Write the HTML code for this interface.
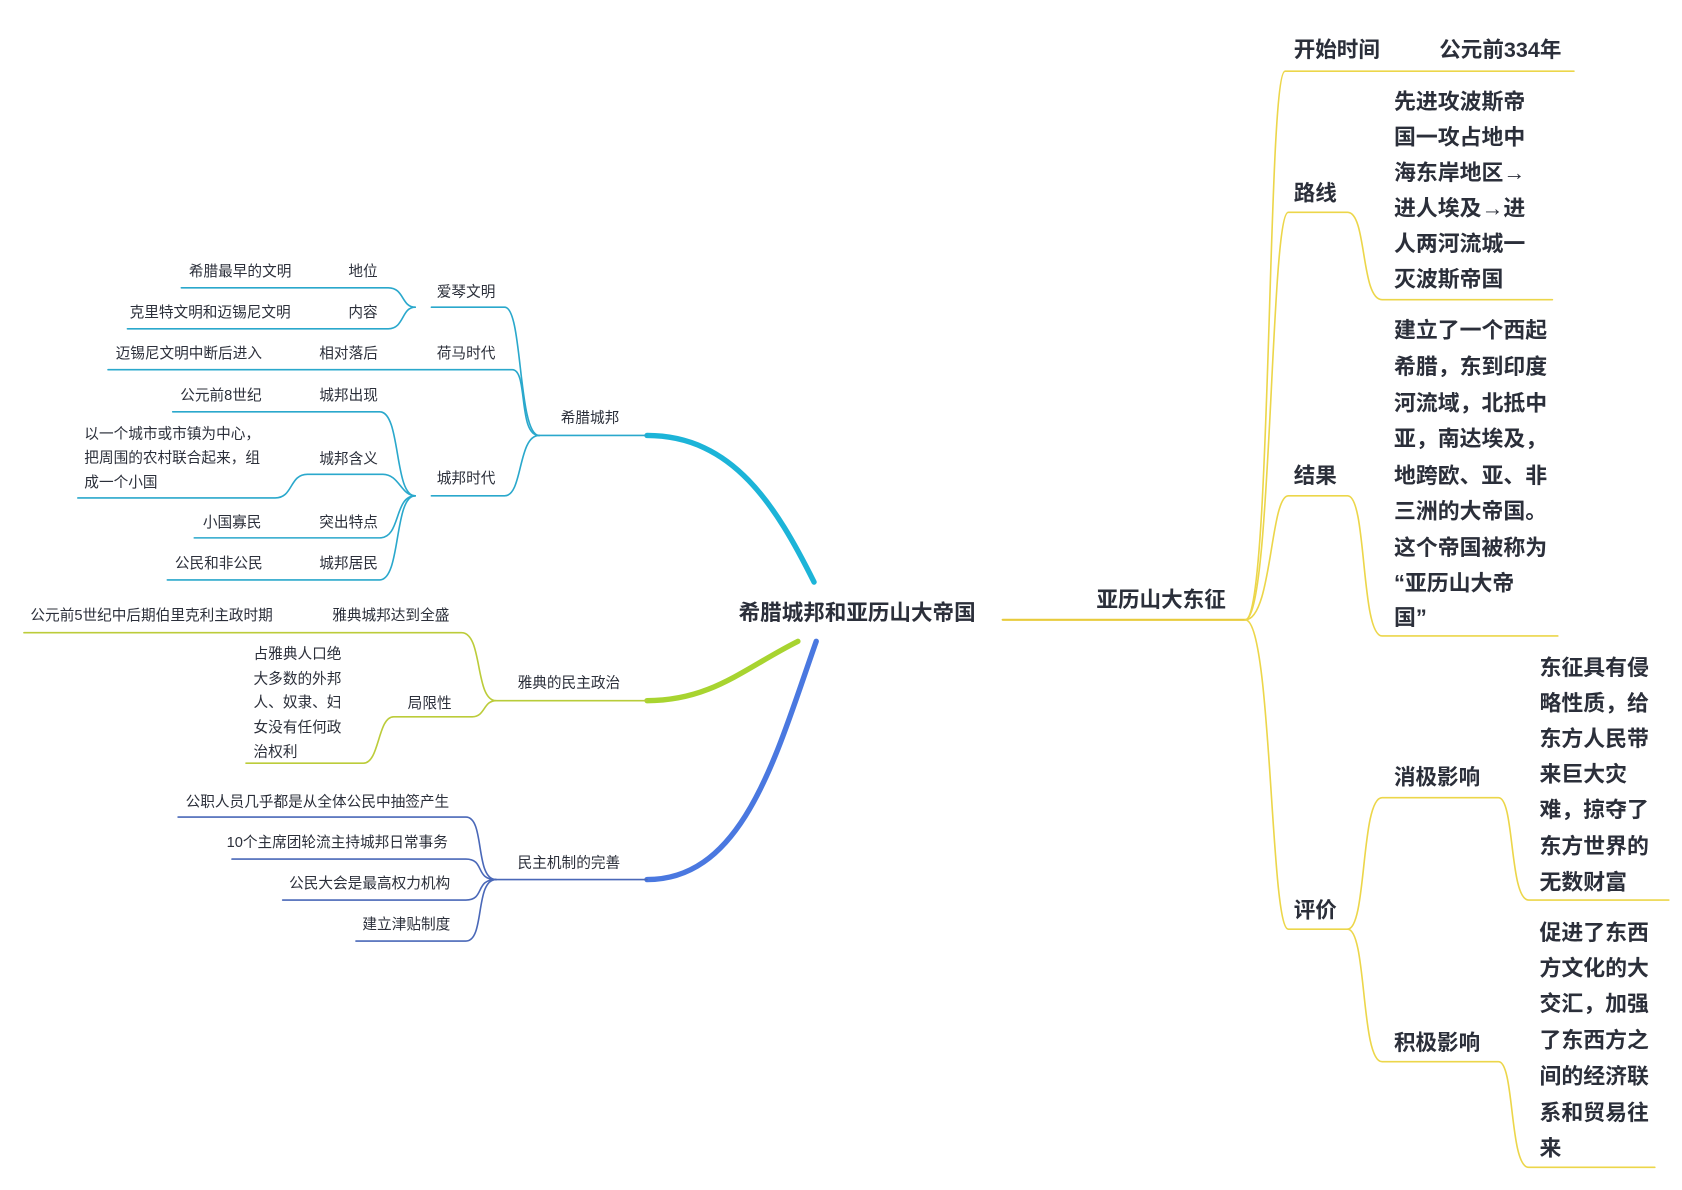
<!DOCTYPE html>
<html><head><meta charset="utf-8"><style>
html,body{margin:0;padding:0;background:#fff}
svg{display:block}
text{font-family:"Liberation Sans","Noto Sans CJK SC",sans-serif;fill:#2b2f3a}
.s{font-size:13.6px}
.m{font-size:20px;font-weight:bold}
.b{font-size:20.3px;font-weight:bold}
</style></head><body>
<svg width="1682" height="1190" viewBox="0 0 1560 1104" xmlns="http://www.w3.org/2000/svg">
<g fill="none" stroke-linecap="round">
<path d="M930 575 L1155 575" stroke="#e8cb3c" stroke-width="2"/>
<g stroke="#ecd64a" stroke-width="1.5">
<path d="M1155 575 C1180 575,1175 66,1192 66 L1460 66"/>
<path d="M1155 575 C1180 575,1178 197,1195 197 L1250 197 C1268 197,1262 278,1282 278 L1440 278"/>
<path d="M1155 575 C1180 575,1178 460,1195 460 L1250 460 C1268 460,1262 590,1282 590 L1445 590"/>
<path d="M1155 575 C1180 575,1178 862,1195 862 L1250 862"/>
<path d="M1250 862 C1268 862,1262 740,1282 740 L1390 740 C1405 740,1400 835,1418 835 L1548 835"/>
<path d="M1250 862 C1268 862,1262 985,1282 985 L1390 985 C1405 985,1400 1083,1418 1083 L1535 1083"/>
</g>
<path d="M755 540 C720 470,680 404,600 404" stroke="#1cb4d8" stroke-width="5"/>
<path d="M740 595 C690 620,660 650,600 650" stroke="#a8d430" stroke-width="5"/>
<path d="M757 595 C720 700,690 816,600 816" stroke="#4a78e0" stroke-width="5"/>
<path d="M600 404 L500 404" stroke="#2aa8cc" stroke-width="1.5"/>
<path d="M600 650 L460 650" stroke="#b8cc3a" stroke-width="1.5"/>
<path d="M600 816 L460 816" stroke="#4a68b8" stroke-width="1.5"/>
<g stroke="#2aa8cc" stroke-width="1.5">
<path d="M500 404 C480 404,485 285,468 285 L400 285"/>
<path d="M500 404 C480 404,490 343,475 343 L100 343"/>
<path d="M500 404 C480 404,485 460,468 460 L400 460"/>
<path d="M385 285 C372 285,375 267,360 267 L168 267"/>
<path d="M385 285 C372 285,375 305,360 305 L118 305"/>
<path d="M385 460 C365 460,372 382,352 382 L160 382"/>
<path d="M385 460 C372 460,370 440,355 440 L285 440 C268 440,272 462,255 462 L72 462"/>
<path d="M385 460 C365 460,372 499,352 499 L180 499"/>
<path d="M385 460 C365 460,372 538,352 538 L155 538"/>
</g>
<g stroke="#bccc3a" stroke-width="1.5">
<path d="M460 650 C440 650,448 587,428 587 L22 587"/>
<path d="M460 650 C448 650,450 665,438 665 L365 665 C350 665,352 708,337 708 L228 708"/>
</g>
<g stroke="#4a68b8" stroke-width="1.5">
<path d="M460 816 C440 816,450 758,432 758 L165 758"/>
<path d="M460 816 C440 816,450 797,432 797 L215 797"/>
<path d="M460 816 C440 816,450 835,432 835 L262 835"/>
<path d="M460 816 C440 816,450 873,432 873 L330 873"/>
</g>
</g>
<text class="m" x="685" y="575">希腊城邦和亚历山大帝国</text>
<text class="m" x="1017" y="563">亚历山大东征</text>
<text class="m" x="1200" y="53">开始时间</text>
<text class="m" x="1335" y="53">公元前334年</text>
<text class="m" x="1200" y="186">路线</text>
<text class="m" x="1200" y="448">结果</text>
<text class="m" x="1200" y="851">评价</text>
<text class="m" x="1293" y="728">消极影响</text>
<text class="m" x="1293" y="974">积极影响</text>
<g>
<text class="b" x="1293" y="101">先进攻波斯帝</text>
<text class="b" x="1293" y="134">国一攻占地中</text>
<text class="b" x="1293" y="167">海东岸地区→</text>
<text class="b" x="1293" y="200">进人埃及→进</text>
<text class="b" x="1293" y="233">人两河流城一</text>
<text class="b" x="1293" y="266">灭波斯帝国</text>
<text class="b" x="1293" y="313">建立了一个西起</text>
<text class="b" x="1293" y="347">希腊，东到印度</text>
<text class="b" x="1293" y="381">河流域，北抵中</text>
<text class="b" x="1293" y="414">亚，南达埃及，</text>
<text class="b" x="1293" y="448">地跨欧、亚、非</text>
<text class="b" x="1293" y="481">三洲的大帝国。</text>
<text class="b" x="1293" y="515">这个帝国被称为</text>
<text class="b" x="1293" y="548">“亚历山大帝</text>
<text class="b" x="1293" y="580">国”</text>
<text class="b" x="1428" y="626">东征具有侵</text>
<text class="b" x="1428" y="659">略性质，给</text>
<text class="b" x="1428" y="692">东方人民带</text>
<text class="b" x="1428" y="725">来巨大灾</text>
<text class="b" x="1428" y="758">难，掠夺了</text>
<text class="b" x="1428" y="792">东方世界的</text>
<text class="b" x="1428" y="825">无数财富</text>
<text class="b" x="1428" y="872">促进了东西</text>
<text class="b" x="1428" y="905">方文化的大</text>
<text class="b" x="1428" y="938">交汇，加强</text>
<text class="b" x="1428" y="972">了东西方之</text>
<text class="b" x="1428" y="1005">间的经济联</text>
<text class="b" x="1428" y="1039">系和贸易往</text>
<text class="b" x="1428" y="1072">来</text>
</g>
<g>
<text class="s" x="520" y="392">希腊城邦</text>
<text class="s" x="480" y="638">雅典的民主政治</text>
<text class="s" x="480" y="805">民主机制的完善</text>
<text class="s" x="405" y="275">爱琴文明</text>
<text class="s" x="405" y="332">荷马时代</text>
<text class="s" x="405" y="448">城邦时代</text>
<text class="s" x="323" y="256">地位</text>
<text class="s" x="175" y="256">希腊最早的文明</text>
<text class="s" x="323" y="294">内容</text>
<text class="s" x="120" y="294">克里特文明和迈锡尼文明</text>
<text class="s" x="296" y="332">相对落后</text>
<text class="s" x="107" y="332">迈锡尼文明中断后进入</text>
<text class="s" x="296" y="371">城邦出现</text>
<text class="s" x="167" y="371">公元前8世纪</text>
<text class="s" x="296" y="430">城邦含义</text>
<text class="s" x="78" y="407">以一个城市或市镇为中心，</text>
<text class="s" x="78" y="429">把周围的农村联合起来，组</text>
<text class="s" x="78" y="452">成一个小国</text>
<text class="s" x="296" y="489">突出特点</text>
<text class="s" x="188" y="489">小国寡民</text>
<text class="s" x="296" y="527">城邦居民</text>
<text class="s" x="162" y="527">公民和非公民</text>
<text class="s" x="308" y="575">雅典城邦达到全盛</text>
<text class="s" x="28" y="575">公元前5世纪中后期伯里克利主政时期</text>
<text class="s" x="378" y="657">局限性</text>
<text class="s" x="235" y="611">占雅典人口绝</text>
<text class="s" x="235" y="634">大多数的外邦</text>
<text class="s" x="235" y="656">人、奴隶、妇</text>
<text class="s" x="235" y="679">女没有任何政</text>
<text class="s" x="235" y="702">治权利</text>
<text class="s" x="172" y="748">公职人员几乎都是从全体公民中抽签产生</text>
<text class="s" x="210" y="786">10个主席团轮流主持城邦日常事务</text>
<text class="s" x="268" y="824">公民大会是最高权力机构</text>
<text class="s" x="336" y="862">建立津贴制度</text>
</g>
</svg>
</body></html>
